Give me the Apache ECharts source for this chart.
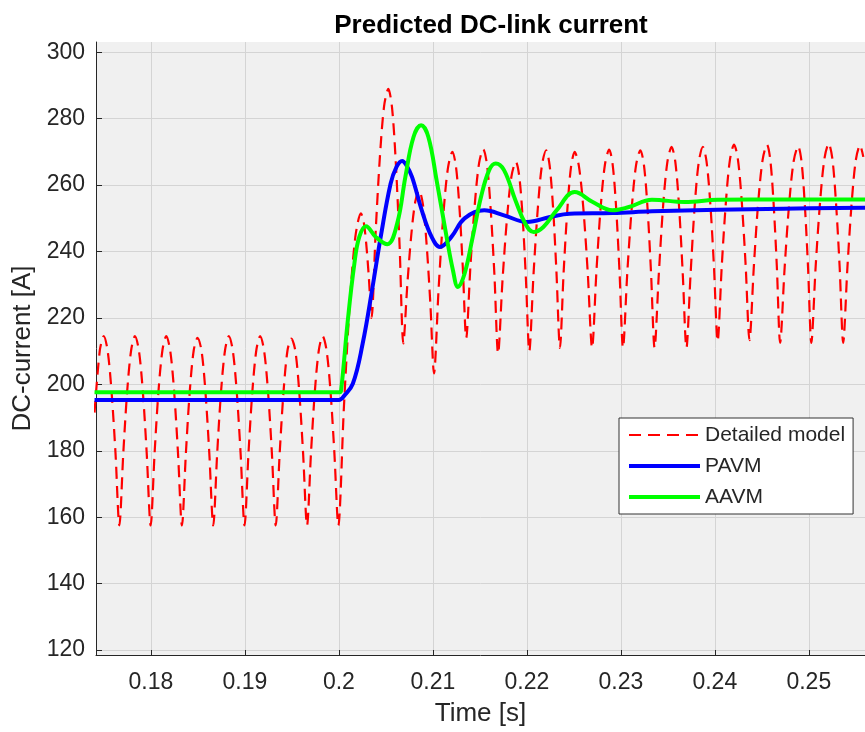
<!DOCTYPE html>
<html><head><meta charset="utf-8">
<script src="https://cdn.jsdelivr.net/npm/echarts@6/dist/echarts.min.js"></script>
<style>html,body{margin:0;padding:0;background:#fff}#c{width:865px;height:732px}</style>
</head><body><div id="c"></div>
<script>
const titleText = 'Predicted DC-link current';
const xName = 'Time [s]';
const yName = 'DC-current [A]';
const seriesNames = ['Detailed model', 'PAVM', 'AAVM'];
const xTicks = [0.18, 0.19, 0.2, 0.21, 0.22, 0.23, 0.24, 0.25];
const yTicks = [120, 140, 160, 180, 200, 220, 240, 260, 280, 300];

const detailedModel = [
[0.17400,191.5],[0.17456,210.2],[0.17498,214.5],[0.17539,210.2],[0.17581,197.8],[0.17623,179.3],[0.17664,157.5],
[0.17706,179.3],[0.17747,197.8],[0.17789,210.2],[0.17830,214.5],[0.17872,210.2],[0.17914,197.8],[0.17955,179.3],[0.17997,157.5],
[0.18039,179.3],[0.18080,197.8],[0.18122,210.2],[0.18163,214.5],[0.18205,210.2],[0.18247,197.8],[0.18288,179.3],[0.18330,157.5],
[0.18372,179.3],[0.18413,197.8],[0.18455,210.2],[0.18496,214.0],[0.18538,210.2],[0.18580,197.8],[0.18621,179.3],[0.18663,157.5],
[0.18705,179.3],[0.18746,197.8],[0.18788,210.2],[0.18829,214.5],[0.18871,210.2],[0.18913,197.8],[0.18954,179.3],[0.18996,157.5],
[0.19038,179.3],[0.19079,197.8],[0.19121,210.2],[0.19162,214.5],[0.19204,210.2],[0.19246,197.8],[0.19287,179.3],[0.19328,157.5],
[0.19370,179.3],[0.19411,197.8],[0.19453,210.2],[0.19494,213.8],[0.19536,210.2],[0.19578,197.8],[0.19619,179.3],[0.19661,157.5],
[0.19703,179.3],[0.19744,197.8],[0.19786,210.2],[0.19827,214.5],[0.19869,210.2],[0.19911,197.8],[0.19952,179.3],[0.19994,157.5],
[0.20054,193.5],[0.20115,224.0],[0.20175,244.4],[0.20235,251.5],
[0.20263,249.1],[0.20291,242.3],[0.20319,232.1],[0.20347,220.0],
[0.20392,246.4],[0.20437,268.8],[0.20481,283.8],[0.20526,289.0],
[0.20566,283.2],[0.20606,266.5],[0.20646,241.7],[0.20686,212.3],
[0.20728,230.0],[0.20770,244.9],[0.20812,254.9],[0.20854,258.4],
[0.20894,254.2],[0.20933,242.3],[0.20973,224.4],[0.21012,203.3],
[0.21061,228.8],[0.21110,250.5],[0.21159,264.9],[0.21208,270.0],
[0.21245,265.7],[0.21282,253.6],[0.21318,235.4],[0.21355,214.0],
[0.21400,235.8],[0.21446,254.2],[0.21491,266.5],[0.21536,270.8],
[0.21576,266.1],[0.21615,252.8],[0.21655,232.9],[0.21694,209.3],
[0.21741,231.4],[0.21789,250.1],[0.21836,262.6],[0.21883,267.0],
[0.21919,262.7],[0.21955,250.3],[0.21990,231.8],[0.22026,210.0],
[0.22071,233.2],[0.22116,252.8],[0.22160,265.9],[0.22205,270.5],
[0.22242,266.0],[0.22279,253.1],[0.22315,233.8],[0.22352,211.0],
[0.22391,233.6],[0.22431,252.7],[0.22470,265.5],[0.22509,270.0],
[0.22555,265.5],[0.22602,252.7],[0.22648,233.6],[0.22694,211.0],
[0.22740,233.9],[0.22785,253.2],[0.22831,266.2],[0.22876,270.7],
[0.22913,266.2],[0.22950,253.2],[0.22986,233.9],[0.23023,211.0],
[0.23069,233.8],[0.23116,253.1],[0.23162,266.0],[0.23208,270.5],
[0.23246,266.0],[0.23284,253.1],[0.23321,233.8],[0.23359,211.0],
[0.23404,233.2],[0.23450,253.8],[0.23495,266.9],[0.23540,271.5],
[0.23580,266.9],[0.23619,253.8],[0.23659,233.2],[0.23698,211.0],
[0.23742,233.2],[0.23786,253.8],[0.23829,266.9],[0.23873,271.5],
[0.23912,267.1],[0.23952,254.4],[0.23991,235.4],[0.24030,213.0],
[0.24074,235.7],[0.24118,254.9],[0.24161,267.7],[0.24205,272.2],
[0.24246,267.7],[0.24287,254.9],[0.24328,235.9],[0.24369,213.3],
[0.24416,235.9],[0.24462,254.9],[0.24509,267.7],[0.24555,272.2],
[0.24590,267.7],[0.24625,254.7],[0.24660,235.4],[0.24695,212.5],
[0.24743,235.2],[0.24791,254.4],[0.24839,267.2],[0.24887,271.7],
[0.24922,267.2],[0.24957,254.4],[0.24992,235.2],[0.25027,212.5],
[0.25073,235.5],[0.25120,254.9],[0.25166,267.9],[0.25212,272.5],
[0.25251,267.9],[0.25289,254.9],[0.25328,235.5],[0.25366,212.5],
[0.25411,235.3],[0.25456,254.6],[0.25500,267.5],[0.25545,272.0],[0.25580,268.5]
];

const pavm = [
[0.1740,195.3],[0.2000,195.3],[0.20025,195.6],[0.20046,196.2],[0.20148,200.2],[0.20253,212.3],
[0.20358,229.3],[0.20445,244.4],[0.20550,260.4],[0.20613,265.5],[0.20673,267.3],[0.20718,266.0],
[0.20778,262.5],[0.20882,252.4],[0.20987,244.4],[0.21075,241.4],[0.21197,244.4],[0.21337,250.0],
[0.21547,252.4],[0.21757,250.9],[0.22001,248.9],[0.22247,250.4],[0.22456,251.4],[0.22911,251.6],
[0.23331,252.1],[0.24030,252.6],[0.24726,252.9],[0.25600,253.2]
];

const aavm = [
[0.1740,197.6],[0.20009,197.6],[0.20025,198.5],[0.20095,219.3],[0.20165,236.4],[0.20217,244.4],
[0.20288,247.6],[0.20392,244.4],[0.20515,242.2],[0.20620,248.4],[0.20707,262.4],[0.20794,274.5],
[0.20875,278.0],[0.20952,274.5],[0.21040,261.4],[0.21127,247.4],[0.21214,234.3],[0.21267,229.3],
[0.21337,233.3],[0.21424,244.4],[0.21512,256.4],[0.21599,264.5],[0.21669,266.5],[0.21757,264.5],
[0.21879,255.4],[0.21984,248.4],[0.22071,245.9],[0.22176,247.4],[0.22316,252.4],[0.22509,257.9],
[0.22701,254.9],[0.22911,252.4],[0.23086,253.4],[0.23331,255.6],[0.23680,254.9],[0.24030,255.6],
[0.24729,255.7],[0.25600,255.7]
];

const FONT = "'Liberation Sans', Arial, Helvetica, sans-serif";
const TXT = '#262626';
const chart = echarts.init(document.getElementById('c'), null, {renderer: 'canvas'});
chart.setOption({
  animation: false,
  backgroundColor: '#ffffff',
  title: {
    text: titleText, left: 486, top: 8, textAlign: 'center',
    textStyle: {fontFamily: FONT, fontSize: 26, fontWeight: 'bold', color: '#000'}
  },
  grid: {left: 96, top: 42, right: -11, bottom: 77, show: true, backgroundColor: '#f0f0f0', borderWidth: 0},
  legend: {
    orient: 'vertical', left: 619, top: 418,
    data: [
      {name: seriesNames[0], lineStyle: {width: 2}},
      {name: seriesNames[1], lineStyle: {width: 4}},
      {name: seriesNames[2], lineStyle: {width: 4}}
    ],
    itemWidth: 71, itemHeight: 14, itemGap: 7,
    itemStyle: {opacity: 0, borderWidth: 0},
    padding: [5, 8, 5, 8],
    backgroundColor: '#ffffff', borderColor: '#333', borderWidth: 1,
    textStyle: {fontFamily: FONT, fontSize: 21, lineHeight: 24, color: TXT}
  },
  xAxis: {
    type: 'value', min: 0.174155, max: 0.25598,
    name: xName, nameLocation: 'middle', nameGap: 46,
    nameTextStyle: {fontFamily: FONT, fontSize: 26, color: TXT},
    axisLine: {show: true, onZero: false, lineStyle: {color: '#262626', width: 1}},
    axisTick: {show: true, inside: true, length: 5, customValues: xTicks, lineStyle: {color: '#262626'}},
    axisLabel: {customValues: xTicks, margin: 16, fontFamily: FONT, fontSize: 23, color: TXT,
      formatter: v => String(+(+v).toFixed(2))},
    splitLine: {show: true, lineStyle: {color: '#d4d4d4', width: 1}}
  },
  yAxis: {
    type: 'value', min: 118.5, max: 303.1,
    name: yName, nameLocation: 'middle', nameGap: 59, nameRotate: 90,
    nameTextStyle: {fontFamily: FONT, fontSize: 26, color: TXT},
    axisLine: {show: true, onZero: false, lineStyle: {color: '#262626', width: 1}},
    axisTick: {show: true, inside: true, length: 6, customValues: yTicks, lineStyle: {color: '#262626'}},
    axisLabel: {customValues: yTicks, margin: 11, fontFamily: FONT, fontSize: 23, color: TXT},
    splitLine: {show: true, lineStyle: {color: '#d4d4d4', width: 1}}
  },
  series: [
    {name: seriesNames[0], type: 'line', data: detailedModel, symbol: 'none', smooth: 0.3,
     lineStyle: {color: '#ff0000', width: 2.2, type: [12, 7]}, itemStyle: {color: '#ff0000'}, z: 2},
    {name: seriesNames[1], type: 'line', data: pavm, symbol: 'none', smooth: 0.4,
     lineStyle: {color: '#0000ff', width: 4}, itemStyle: {color: '#0000ff'}, z: 3},
    {name: seriesNames[2], type: 'line', data: aavm, symbol: 'none', smooth: 0.4,
     lineStyle: {color: '#00ff00', width: 4}, itemStyle: {color: '#00ff00'}, z: 4}
  ]
});
</script>
</body></html>
